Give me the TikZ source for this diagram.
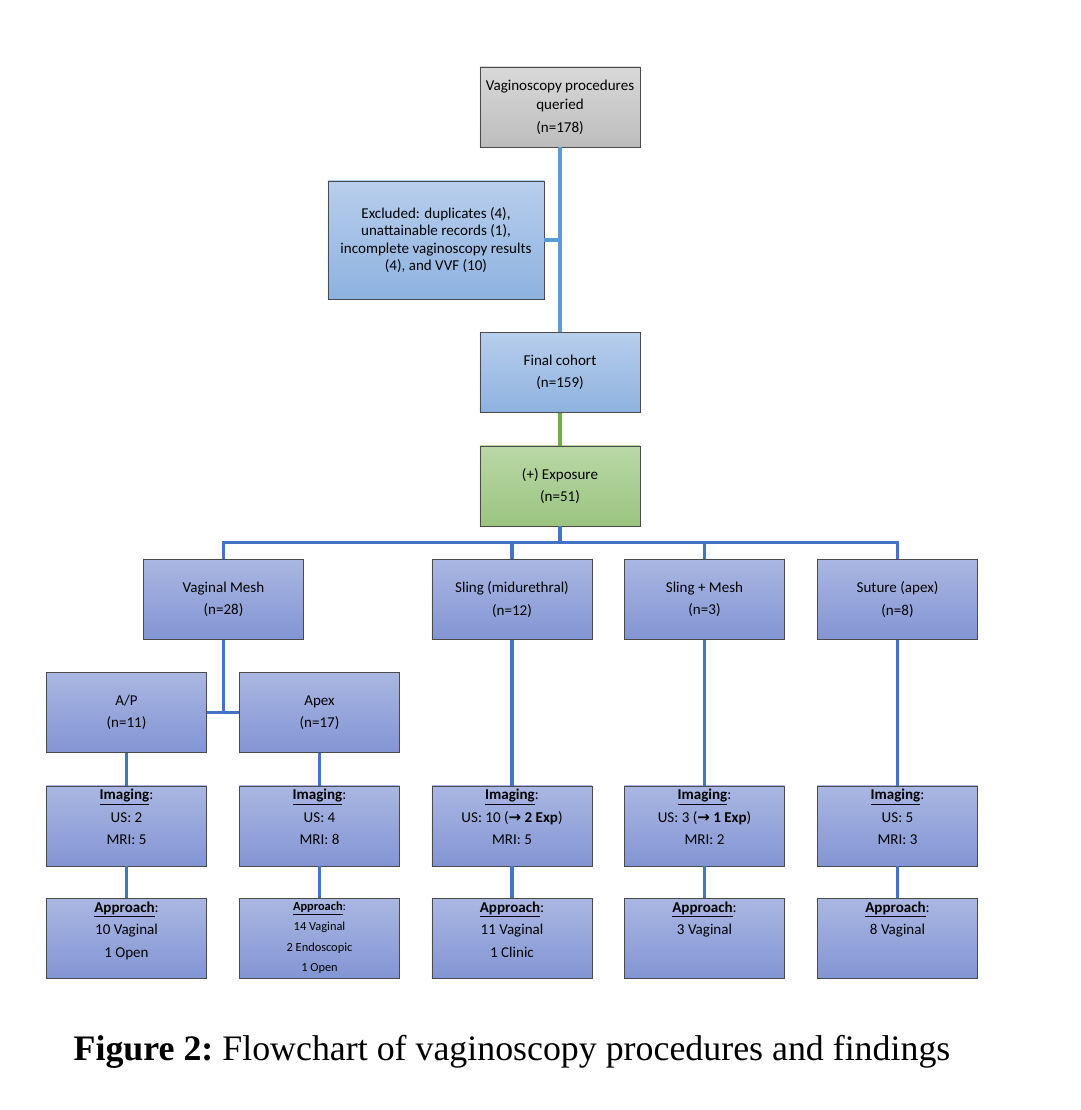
\documentclass[tikz,border=0pt]{standalone}
\usepackage{fontspec}
\setmainfont{Carlito}
\newfontfamily\capfont{Liberation Serif}
\newfontfamily\symfont{DejaVu Sans}
\usepackage{tikz}
\usetikzlibrary{positioning,calc,shadings}
\usepackage{xcolor}

\definecolor{linkblue}{HTML}{4472C4}
\definecolor{lightlink}{HTML}{5B9BD5}
\definecolor{linkgreen}{HTML}{70AD47}
\definecolor{boxedge}{HTML}{4A4A4A}

\newcommand{\hdr}[1]{\underline{\textbf{#1}}:}
\newcommand{\arr}{{\symfont\bfseries →}}

\begin{document}
\begin{tikzpicture}[
  x=0.025cm, y=-0.025cm,
  box/.style={draw=boxedge, line width=0.6pt, minimum width=4cm, minimum height=2cm,
    inner sep=2pt, align=center, font=\fontsize{10.7}{16}\selectfont},
  grey/.style={box, top color=gray!30, bottom color=gray!52},
  pale/.style={box, top color={rgb,255:red,184;green,206;blue,236},
    bottom color={rgb,255:red,141;green,178;blue,224}},
  mauve/.style={box, top color={rgb,255:red,170;green,183;blue,226},
    bottom color={rgb,255:red,130;green,149;blue,212}},
  leaf/.style={mauve},
  fresh/.style={box, top color={rgb,255:red,185;green,216;blue,166},
    bottom color={rgb,255:red,155;green,196;blue,128}},
  link/.style={line width=2.3pt, draw=linkblue},
]
  \useasboundingbox (0,0) rectangle (1080,1110);

  % Top of the chart
  \node[grey] (query) at (560,107) {Vaginoscopy procedures\\[-2pt] queried\\ (n=178)};
  \node[pale, minimum width=5.4cm, minimum height=2.95cm,
    font=\fontsize{10.7}{12.5}\selectfont] (excl) at (436,240)
    {Excluded: duplicates (4),\\ unattainable records (1),\\ incomplete vaginoscopy results\\ (4), and VVF (10)};
  \node[pale] (final) at (560,372.5) {Final cohort\\ (n=159)};
  \node[fresh] (expo) at (560,486) {(+) Exposure\\ (n=51)};

  % Groups
  \node[mauve] (mesh) at (223.5,599.5) {Vaginal Mesh\\ (n=28)};
  \node[mauve] (sling) at (512,599.5) {Sling (midurethral)\\ (n=12)};
  \node[mauve] (slmesh) at (704.5,599.5) {Sling + Mesh\\ (n=3)};
  \node[mauve] (suture) at (897.5,599.5) {Suture (apex)\\ (n=8)};
  \node[mauve] (ap) at (126.5,712.5) {A/P\\ (n=11)};
  \node[mauve] (apex) at (319.5,712.5) {Apex\\ (n=17)};

  % Imaging row
  \node[leaf] (imgap) at (126.5,826) {\parbox[t][1.85cm][t]{3.8cm}{\centering\fontsize{10.7}{16}\selectfont \hdr{Imaging}\\ US: 2\\ MRI: 5}};
  \node[leaf] (imgapex) at (319.5,826) {\parbox[t][1.85cm][t]{3.8cm}{\centering\fontsize{10.7}{16}\selectfont \hdr{Imaging}\\ US: 4\\ MRI: 8}};
  \node[leaf] (imgsl) at (512,826) {\parbox[t][1.85cm][t]{3.8cm}{\centering\fontsize{10.7}{16}\selectfont \hdr{Imaging}\\ US: 10 (\arr\ \textbf{2 Exp})\\ MRI: 5}};
  \node[leaf] (imgslm) at (704.5,826) {\parbox[t][1.85cm][t]{3.8cm}{\centering\fontsize{10.7}{16}\selectfont \hdr{Imaging}\\ US: 3 (\arr\ \textbf{1 Exp})\\ MRI: 2}};
  \node[leaf] (imgsu) at (897.5,826) {\parbox[t][1.85cm][t]{3.8cm}{\centering\fontsize{10.7}{16}\selectfont \hdr{Imaging}\\ US: 5\\ MRI: 3}};

  % Approach row
  \node[leaf] (apap) at (126.5,938.5) {\parbox[t][1.85cm][t]{3.8cm}{\centering\fontsize{10.7}{16}\selectfont \hdr{Approach}\\ 10 Vaginal\\ 1 Open}};
  \node[leaf] (apapex) at (319.5,938.5) {\parbox[t][1.85cm][t]{3.8cm}{\centering\fontsize{8.8}{14.6}\selectfont \hdr{Approach}\\ 14 Vaginal\\ 2 Endoscopic\\ 1 Open}};
  \node[leaf] (apsl) at (512,938.5) {\parbox[t][1.85cm][t]{3.8cm}{\centering\fontsize{10.7}{16}\selectfont \hdr{Approach}\\ 11 Vaginal\\ 1 Clinic}};
  \node[leaf] (apslm) at (704.5,938.5) {\parbox[t][1.85cm][t]{3.8cm}{\centering\fontsize{10.7}{16}\selectfont \hdr{Approach}\\ 3 Vaginal}};
  \node[leaf] (apsu) at (897.5,938.5) {\parbox[t][1.85cm][t]{3.8cm}{\centering\fontsize{10.7}{16}\selectfont \hdr{Approach}\\ 8 Vaginal}};

  % Connectors
  \draw[link, draw=lightlink] (query.south) -- (final.north);
  \draw[link, draw=lightlink] (excl.east) -- (excl.east -| query.south);
  \draw[link, draw=linkgreen] (final.south) -- (expo.north);
  \coordinate (bus) at ($(expo.south)!.5!(expo.south |- mesh.north)$);
  \draw[link] (expo.south) -- (bus);
  \foreach \n in {mesh,sling,slmesh,suture}
    \draw[link] (bus) -| (\n.north);
  \draw[link] (mesh.south) -- (mesh.south |- ap.east);
  \draw[link] (ap.east) -- (apex.west);
  \draw[link] (sling.south) -- (imgsl.north);
  \draw[link] (slmesh.south) -- (imgslm.north);
  \draw[link] (suture.south) -- (imgsu.north);
  \draw[link] (ap.south) -- (imgap.north);
  \draw[link] (apex.south) -- (imgapex.north);
  \foreach \a/\b in {imgap/apap,imgapex/apapex,imgsl/apsl,imgslm/apslm,imgsu/apsu}
    \draw[link] (\a.south) -- (\b.north);

  % Caption
  \node[font=\capfont\fontsize{25.5}{30}\selectfont] (cap) at (512,1052)
    {\textbf{Figure 2:}~Flowchart of vaginoscopy procedures and findings};
\end{tikzpicture}
\end{document}
